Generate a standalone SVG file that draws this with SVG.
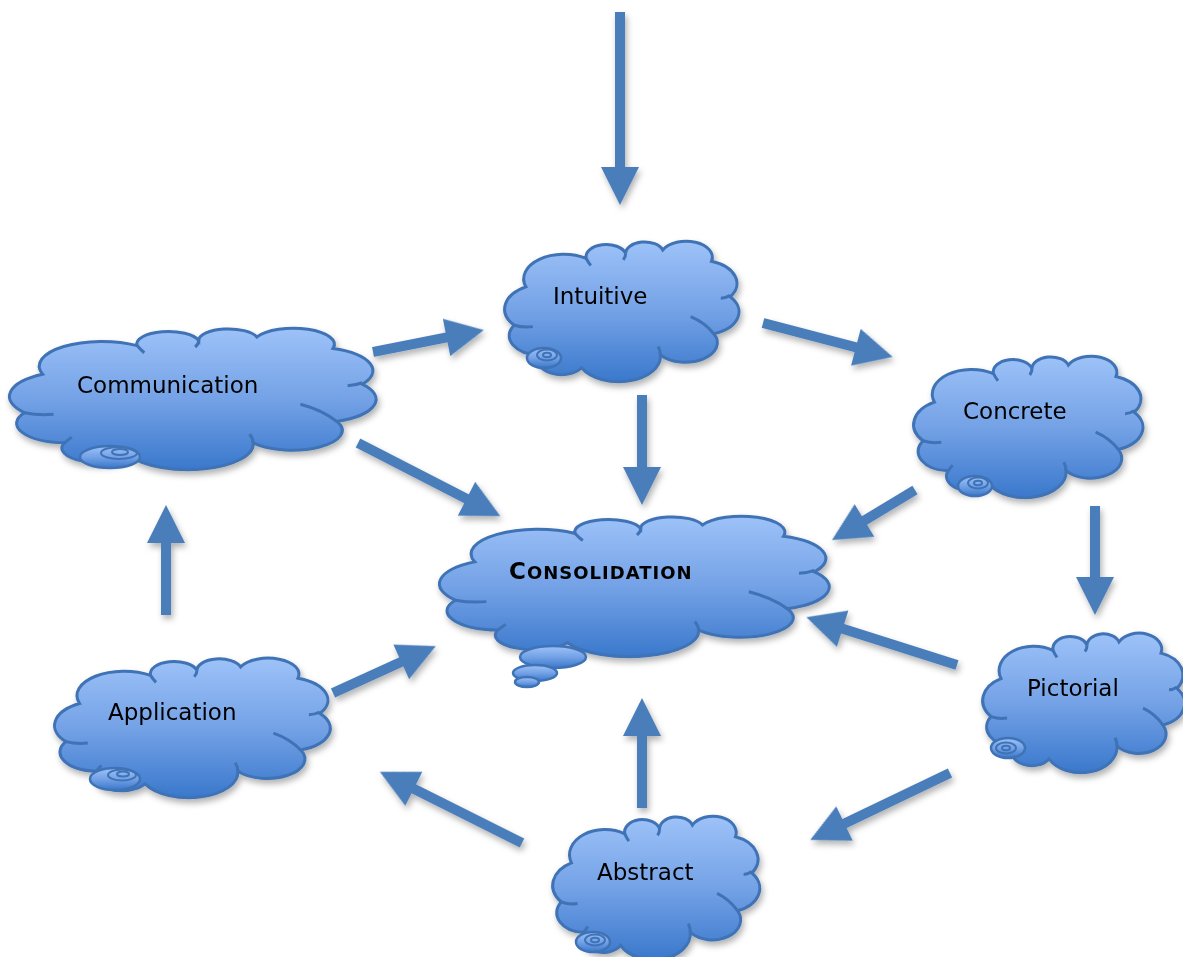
<svg xmlns="http://www.w3.org/2000/svg" xmlns:xlink="http://www.w3.org/1999/xlink" width="1183" height="957" viewBox="0 0 1183 957">
<defs>
<linearGradient id="cg" x1="0" y1="0" x2="0" y2="1">
<stop offset="0" stop-color="#9dc2f8"/>
<stop offset="0.5" stop-color="#74a2e6"/>
<stop offset="1" stop-color="#3a78cc"/>
</linearGradient>
<filter id="sh" x="-20%" y="-20%" width="150%" height="150%">
<feDropShadow dx="2" dy="4" stdDeviation="3" flood-color="#000" flood-opacity="0.3"/>
</filter>
<path id="cloud" vector-effect="non-scaling-stroke" d="M9,33 A17.3,17.3 0 0 1 35,13 A8.7,8.7 0 0 1 52,9.5 A8.2,8.2 0 0 1 68,7 A11.3,11.3 0 0 1 89,15 A16.5,16.5 0 0 1 97,40 A16.4,16.4 0 0 1 90,66 A13.8,13.8 0 0 1 67,81 A18,18 0 0 1 33,90 A10.1,10.1 0 0 1 15,81 A13.6,13.6 0 0 1 4,60 A17.8,17.8 0 0 1 9,33 Z"/>
<path id="seams" vector-effect="non-scaling-stroke" d="M4,60 Q8,62 12,61 M35,13 Q36,16 37,18 M52,9.5 Q52,12 51,14 M97,39 Q95,41 93,41 M90,66 Q86,58 80,54 M67,81 Q67,78 66,75 M15,81 Q16,79 17,77"/>
<style>
.cl{fill:url(#cg);stroke:#3f73b6;stroke-width:3}
.sm{fill:none;stroke:#3f73b6;stroke-width:3}
.bb{fill:url(#cg);stroke:#3f73b6;stroke-width:2.5}
.rg{fill:none;stroke:#3f73b6;stroke-width:2}
.t{font-family:"DejaVu Sans",Verdana,sans-serif;font-size:23px;fill:#000}
.tb{font-family:"DejaVu Sans",Verdana,sans-serif;font-weight:bold;fill:#000;letter-spacing:1px}
.ar{fill:#4a7ebb}
</style>
</defs>
<rect width="1183" height="957" fill="#fff"/>

<g id="connectors" filter="url(#sh)">
<path class="ar" transform="translate(620,12) rotate(90)" d="M0,-5 H155 V-19 L193,0 L155,19 V5 H0 Z"/>
<path class="ar" transform="translate(642,395) rotate(90)" d="M0,-5 H72 V-19 L110,0 L72,19 V5 H0 Z"/>
<path class="ar" transform="translate(373,352) rotate(-11.2)" d="M0,-5 H75 V-19 L113,0 L75,19 V5 H0 Z"/>
<path class="ar" transform="translate(763,323) rotate(14.66)" d="M0,-5 H96 V-19 L134,0 L96,19 V5 H0 Z"/>
<path class="ar" transform="translate(358,443) rotate(27.2)" d="M0,-5 H122 V-19 L160,0 L122,19 V5 H0 Z"/>
<path class="ar" transform="translate(915,490) rotate(148.9)" d="M0,-5 H59 V-19 L97,0 L59,19 V5 H0 Z"/>
<path class="ar" transform="translate(1095,506) rotate(90)" d="M0,-5 H71 V-19 L109,0 L71,19 V5 H0 Z"/>
<path class="ar" transform="translate(957,665) rotate(-162.4)" d="M0,-5 H120 V-19 L158,0 L120,19 V5 H0 Z"/>
<path class="ar" transform="translate(950,773) rotate(154.4)" d="M0,-5 H117 V-19 L155,0 L117,19 V5 H0 Z"/>
<path class="ar" transform="translate(642,808) rotate(-90)" d="M0,-5 H72 V-19 L110,0 L72,19 V5 H0 Z"/>
<path class="ar" transform="translate(522,843) rotate(-153.4)" d="M0,-5 H121 V-19 L159,0 L121,19 V5 H0 Z"/>
<path class="ar" transform="translate(333,693) rotate(-24.5)" d="M0,-5 H75 V-19 L113,0 L75,19 V5 H0 Z"/>
<path class="ar" transform="translate(166,615) rotate(-90)" d="M0,-5 H72 V-19 L110,0 L72,19 V5 H0 Z"/>
</g>

<g id="intuitive">
<g filter="url(#sh)"><g transform="translate(505,240) scale(2.32,1.42)"><use href="#cloud" class="cl"/><use href="#seams" class="sm"/></g></g>
<ellipse class="bb" cx="544" cy="358" rx="17" ry="10"/>
<ellipse class="rg" cx="547" cy="355" rx="10" ry="5.5"/>
<ellipse class="rg" cx="547" cy="355" rx="4" ry="2.2"/>
<text class="t" x="553" y="304">Intuitive</text>
</g>

<g id="communication">
<g filter="url(#sh)"><g transform="translate(10,327) scale(3.63,1.43)"><use href="#cloud" class="cl"/><use href="#seams" class="sm"/></g></g>
<ellipse class="bb" cx="110" cy="457" rx="30" ry="11"/>
<ellipse class="rg" cx="119" cy="453" rx="18" ry="6"/>
<ellipse class="rg" cx="120" cy="452" rx="8" ry="3"/>
<text class="t" x="77" y="393">Communication</text>
</g>

<g id="concrete">
<g filter="url(#sh)"><g transform="translate(914,355) scale(2.27,1.43)"><use href="#cloud" class="cl"/><use href="#seams" class="sm"/></g></g>
<ellipse class="bb" cx="975" cy="486" rx="17" ry="10"/>
<ellipse class="rg" cx="978" cy="483" rx="10" ry="5.5"/>
<ellipse class="rg" cx="978" cy="483" rx="4" ry="2.2"/>
<text class="t" x="963" y="419">Concrete</text>
</g>

<g id="consolidation">
<g filter="url(#sh)"><g transform="translate(440,515) scale(3.86,1.42)"><use href="#cloud" class="cl"/><use href="#seams" class="sm"/></g></g>
<ellipse class="bb" cx="553" cy="657" rx="33" ry="11"/>
<ellipse class="bb" cx="535" cy="673" rx="22" ry="8"/>
<ellipse class="bb" cx="527" cy="682" rx="12" ry="5"/>
<text class="tb" x="509" y="579"><tspan font-size="23">C</tspan><tspan font-size="18">ONSOLIDATION</tspan></text>
</g>

<g id="pictorial">
<g filter="url(#sh)"><g transform="translate(983,632) scale(2.0,1.41)"><use href="#cloud" class="cl"/><use href="#seams" class="sm"/></g></g>
<ellipse class="bb" cx="1008" cy="748" rx="17" ry="10"/>
<ellipse class="rg" cx="1006" cy="748" rx="10" ry="5.5"/>
<ellipse class="rg" cx="1006" cy="748" rx="4" ry="2.2"/>
<text class="t" x="1027" y="696">Pictorial</text>
</g>

<g id="application">
<g filter="url(#sh)"><g transform="translate(55,657) scale(2.73,1.41)"><use href="#cloud" class="cl"/><use href="#seams" class="sm"/></g></g>
<ellipse class="bb" cx="115" cy="779" rx="25" ry="11"/>
<ellipse class="rg" cx="122" cy="775" rx="14" ry="5.5"/>
<ellipse class="rg" cx="123" cy="774" rx="6" ry="2.5"/>
<text class="t" x="108" y="720">Application</text>
</g>

<g id="abstract">
<g filter="url(#sh)"><g transform="translate(553,815) scale(2.05,1.45)"><use href="#cloud" class="cl"/><use href="#seams" class="sm"/></g></g>
<ellipse class="bb" cx="593" cy="942" rx="17" ry="10"/>
<ellipse class="rg" cx="595" cy="940" rx="10" ry="5.5"/>
<ellipse class="rg" cx="595" cy="940" rx="4" ry="2.2"/>
<text class="t" x="597" y="880">Abstract</text>
</g>
</svg>
